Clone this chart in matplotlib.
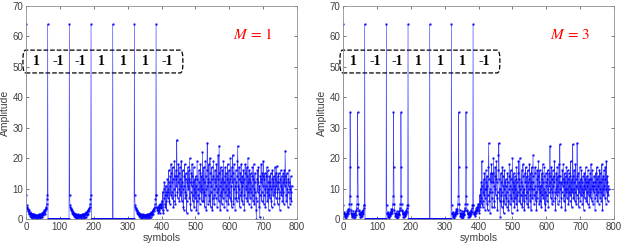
import numpy as np
import matplotlib
matplotlib.use("Agg")
import matplotlib.pyplot as plt
from matplotlib.patches import FancyBboxPatch

plt.rcParams['font.family'] = ['Liberation Sans', 'DejaVu Sans']
plt.rcParams['mathtext.fontset'] = 'stix'

bits = ["1", "-1", "-1", "1", "1", "1", "-1"]
bit_centers = [32, 96, 160, 224, 288, 352, 416]
peak = 64
xticks = [0, 100, 200, 300, 400, 500, 600, 700, 800]
yticks = [0, 10, 20, 30, 40, 50, 60, 70]

# M = 1 : sidelobe block (symbols 1..63 after a peak)
side_m1 = [8, 4.5, 4, 3.5, 3, 3.2, 2.5, 2, 2.8, 1.5, 2.2, 1.8, 1, 2, 1.5, 0.5, 1.8, 1.2, 0.3, 1.6,
           1, 1.4, 0.2, 1.2, 1.5, 0.6, 1, 1.3, 0, 1.2, 0.8, 1.4, 0.4, 1.3, 0.9, 0, 1.2, 1.5, 0.5, 1.1,
           1.6, 0.3, 1.3, 1.7, 0.7, 1.5, 2, 0.5, 1.8, 2.2, 1.2, 2.4, 2, 2.8, 1.6, 3, 2.7, 3.5, 3.2, 4,
           5, 6.5, 8]
# M = 3 : sidelobe block with two secondary peaks
side_m3 = [4.5, 2, 1.5, 2.2, 1, 0.5, 1.5, 1.2, 0.3, 1.5, 2, 1, 2.5, 1.5, 3.2, 2,
           2.5, 3.2, 5, 7.5, 35, 17, 5, 3, 2, 1, 1.8, 0.5, 1.5, 2.5, 1, 0.3, 1.6, 2, 0.8, 1.5,
           2.5, 1.2, 3, 3.5, 5, 7.5, 35, 17, 5, 3, 2.5, 1.5, 2, 0.8, 1.5, 2.2, 0.5, 1.2, 2,
           1, 2.5, 1.5, 3, 2.2, 3.5, 4.5, 4.5]
zero_block = [0] * 63
block_has_side = [True, False, True, False, False, True]

tail_m1 = [8, 4, 3.5, 3, 2.5, 4, 2, 3.5, 4.5, 3, 2, 4, 5, 3.5, 4.5]
tail_m3 = [4.5, 2, 1.5, 2, 1, 2.5, 1.5, 3, 2, 3.5, 2.5, 4, 3, 5, 4]

noise_m1 = [
    4, 6, 5, 9, 3, 2, 7, 10, 12, 8, 5, 4, 9, 11, 6, 3, 8, 13, 10, 7,
    9, 16, 12, 6, 5, 11, 14, 8, 18, 15, 9, 7, 12, 17, 13, 4, 6, 10, 19, 14,
    8, 5, 13, 16, 11, 26, 14, 9, 7, 12, 18, 15, 10, 6, 17, 13, 8, 11, 19, 9,
    6, 12, 16, 10, 4, 3, 11, 14, 18, 9, 7, 13, 15, 8, 2, 6, 12, 17, 11, 10,
    16, 13, 7, 20, 12, 5, 3, 9, 15, 11, 18, 14, 6, 8, 12, 17, 4, 10, 13, 7,
    9, 14, 11, 3, 6, 19, 13, 8, 2, 10, 16, 12, 7, 5, 15, 18, 9, 11, 14, 6,
    10, 22, 13, 6, 9, 17, 12, 4, 8, 19, 14, 10, 3, 11, 16, 25, 12, 5, 13, 18,
    8, 6, 12, 20, 15, 4, 9, 11, 17, 13, 3, 7, 14, 19, 10, 5, 8, 13, 16, 12,
    7, 11, 18, 14, 4, 9, 13, 21, 10, 6, 24, 15, 8, 3, 11, 17, 12, 9, 5, 16,
    13, 7, 10, 19, 12, 4, 9, 14, 17, 6, 11, 15, 8, 3, 13, 18, 10, 5, 12, 16,
    9, 7, 13, 20, 14, 6, 11, 4, 17, 12, 21, 15, 5, 10, 18, 13, 7, 3, 11, 16,
    12, 9, 6, 14, 19, 24, 11, 7, 13, 17, 10, 4, 8, 15, 12, 18, 9, 6, 14, 11,
    5, 12, 16, 13, 8, 3, 15, 18, 10, 7, 11, 14, 17, 6, 9, 20, 12, 5, 13, 16,
    10, 7, 12, 15, 9, 4, 11, 14, 17, 8, 6, 13, 18, 10, 5, 12, 15, 9, 7, 3,
    0, 6, 13, 16, 9, 12, 17, 10, 4, 11, 0.5, 8, 14, 12, 18, 13, 6, 9, 15, 11,
    19, 14, 5, 8, 13, 15, 10, 4, 11, 14, 17, 9, 6, 12, 16, 10, 3, 8, 14, 11,
    7, 12, 15, 10, 6, 4, 13, 16, 11, 8, 12, 14, 9, 5, 10, 17, 13, 7, 15, 11,
    17.5, 12, 9, 5, 14, 10, 15, 12, 7, 3, 9, 13, 16, 11, 8, 14, 10, 6, 12, 15,
    9, 5, 13, 16, 11, 22.5, 14, 8, 6, 12, 15, 10, 4, 9, 13, 11, 16, 12, 7, 5,
    10, 14, 9, 6, 11]

noise_m3 = [
    3, 5, 2, 6, 8, 4, 10, 7, 12, 5, 19, 11, 6, 4, 9, 13, 8, 15, 10, 3,
    7, 12, 16, 10, 5, 14, 11, 3, 8, 17, 25, 13, 6, 9, 2, 10, 15, 12, 18, 7,
    4, 9, 15, 12, 20, 11, 6, 4, 14, 17, 10, 8, 13, 19, 12, 7, 3, 9, 16, 21,
    25, 13, 6, 10, 0.5, 8, 15, 12, 4, 9, 17, 11, 14, 6, 2, 10, 16, 12, 5, 8,
    13, 11, 7, 4, 9, 15, 12, 6, 3, 10, 14, 18, 11, 5, 8, 16, 13, 7, 2, 10,
    20, 12, 6, 9, 15, 11, 4, 14, 10, 7, 13, 5, 17, 12, 8, 3, 9, 15, 19, 11,
    6, 13, 20, 10, 5, 8, 12, 16, 11, 4, 9, 18, 14, 6, 10, 3, 8, 15, 12, 17,
    11, 7, 14, 5, 9, 16, 12, 4, 10, 13, 18, 11, 6, 8, 15, 3, 12, 17, 10, 7,
    14, 21, 12, 8, 5, 10, 15, 17, 11, 6, 9, 3, 13, 16, 7, 11, 14, 19, 10, 5,
    12, 16, 9, 6, 11, 4, 13, 15, 8, 18, 12, 7, 10, 14, 17, 5, 9, 3, 11, 15,
    12, 8, 6, 13, 16, 10, 4, 9, 15, 11, 14, 24, 12, 7, 10, 17, 13, 5, 9, 16,
    11, 6, 14, 12, 19, 9, 7, 3, 10, 15, 13, 8, 17, 11, 5, 14, 9, 18, 12, 6,
    24.5, 14, 10, 7, 12, 4, 9, 16, 13, 11, 18, 12, 6, 8, 15, 10, 3, 14, 9, 17,
    12, 7, 10, 16, 13, 5, 9, 15, 11, 6, 14, 8, 19, 12, 10, 4, 13, 9, 24.5, 14,
    7, 10, 16, 12, 6, 9, 18, 13, 5, 11, 8, 25, 14, 10, 15, 7, 4, 12, 9, 17,
    11, 6, 13, 8, 16, 12, 5, 10, 14, 9, 3, 11, 15, 7, 13, 10, 17, 12, 6, 9,
    14, 11, 5, 16, 12, 8, 13, 4, 10, 15, 9, 7, 18, 13, 6, 11, 16, 10, 5, 12,
    9, 14, 11, 7, 3, 12, 15, 10, 8, 17, 13, 6, 11, 14, 9, 5, 12, 16, 10, 7,
    15, 12, 9, 6, 18, 13, 3, 10, 14, 8, 16, 11, 7, 13, 17, 10, 5, 19, 12, 9,
    14, 6, 11, 8, 10]


def build(side, tail, noise):
    y = []
    for has in block_has_side:
        y += [peak]
        y += side if has else zero_block
    y += [peak]
    y += tail + noise
    return np.array(y, dtype=float)


series = [(build(side_m1, tail_m1, noise_m1), r"$M\,=\,1$"),
          (build(side_m3, tail_m3, noise_m3), r"$M\,=\,3$")]

fig = plt.figure(figsize=(6.23, 2.47), dpi=100)
lefts = [26 / 623, 343 / 623]
for (y, label), left in zip(series, lefts):
    ax = fig.add_axes([left, 28 / 247, 271 / 623, 213 / 247])
    x = np.arange(len(y))
    ax.plot(x, y, color=(0, 0, 1), lw=0.45, marker='.', ms=1.6, alpha=0.75)
    ax.set_xlim(0, 800)
    ax.set_ylim(0, 70)
    ax.set_xticks(xticks)
    ax.set_yticks(yticks)
    ax.tick_params(direction='in', top=True, right=True, labelsize=7,
                   length=2.5, width=0.5, colors='#404040', pad=2)
    for s in ax.spines.values():
        s.set_color('#909090')
        s.set_linewidth(0.6)
    ax.set_xlabel('symbols', fontsize=7.5, color='#404040', labelpad=1)
    ax.set_ylabel('Amplitude', fontsize=7.5, color='#404040', labelpad=2)
    ax.text(670, 60.5, label, color='red', fontsize=11, ha='center', va='center')
    box = FancyBboxPatch((-9, 48), 472, 7.5, boxstyle='round,pad=0,rounding_size=8',
                         mutation_aspect=0.35, facecolor='none', edgecolor='black',
                         linestyle='--', lw=0.9, clip_on=False)
    ax.add_patch(box)
    for b, c in zip(bits, bit_centers):
        ax.text(c, 51.8, b, fontsize=10, fontweight='bold', family='Liberation Serif',
                ha='center', va='center')

fig.savefig('out.png', dpi=100)
